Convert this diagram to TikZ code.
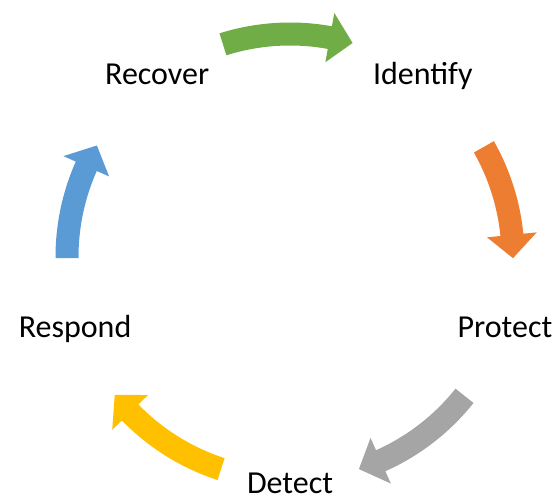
\documentclass[tikz,border=0pt]{standalone}
\usepackage{fontspec}
\setmainfont{Carlito}
\usetikzlibrary{positioning}

\definecolor{recovergreen}{HTML}{70AD47}
\definecolor{identorange}{HTML}{ED7D31}
\definecolor{protectgray}{HTML}{A5A5A5}
\definecolor{detectyellow}{HTML}{FFC000}
\definecolor{respondblue}{HTML}{5B9BD5}

\tikzset{
	stage/.style={font=\fontsize{32}{38}\selectfont, text=black, anchor=base, inner sep=0pt},
}

% curved block arrow: colour, tail angle, tip angle
\newcommand{\cyclearrow}[3]{%
	\pgfmathsetmacro{\hb}{#3+6}%
	\fill[#1] (#2:234.5) arc[start angle=#2, end angle=\hb, radius=234.5]
		-- (\hb:248) -- (#3:223) -- (\hb:198) -- (\hb:211.5)
		arc[start angle=\hb, end angle=#2, radius=211.5] -- cycle;}

\begin{document}
\begin{tikzpicture}[x=1pt,y=1pt]
	\useasboundingbox (-290,-240) rectangle (270,257);
	\coordinate (c) at (0,0);
	
	\foreach \a/\name/\lbl in {54/ident/Identify,-18/protect/Protect,-90/detect/Detect,198/respond/Respond,126/recover/Recover}{
		\node[stage] (\name) at ([yshift=-10.5] \a:226) {\lbl};
	}
	
	\cyclearrow{recovergreen}{107.5}{73.7}
	\cyclearrow{identorange}{29.6}{-0.3}
	\cyclearrow{protectgray}{-38.5}{-72}
	\cyclearrow{detectyellow}{-108}{-141.8}
	\cyclearrow{respondblue}{180.3}{150}
\end{tikzpicture}
\end{document}
